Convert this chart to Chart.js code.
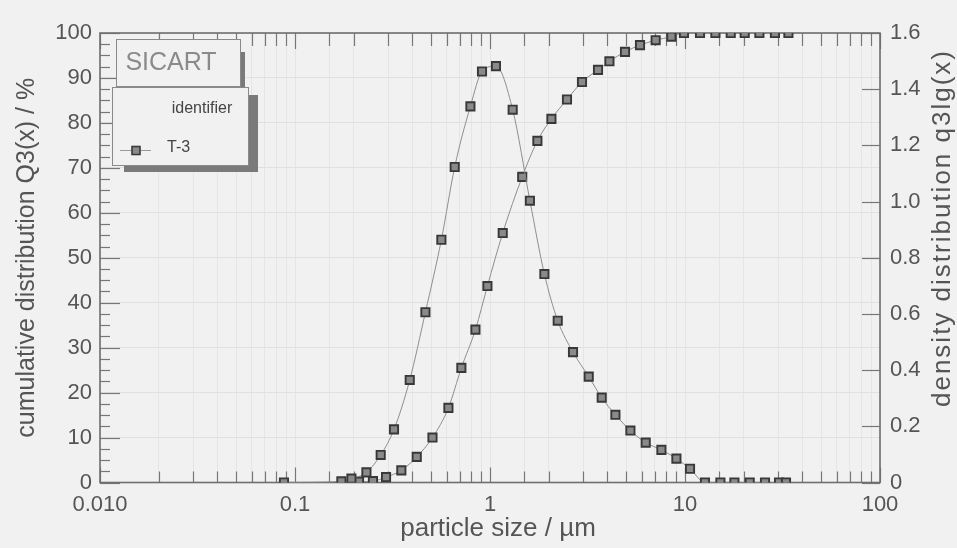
<!DOCTYPE html>
<html>
<head>
<meta charset="utf-8">
<script src="https://cdn.jsdelivr.net/npm/chart.js@4"></script>
<style>
  body { margin: 0; background: #f1f1f1; }
  canvas { display: block; }
</style>
</head>
<body>
<canvas id="chart" width="957" height="548"></canvas>
<script>
// cumulative distribution Q3(x), left axis (%)
const cumX = [0.213, 0.251, 0.293, 0.351, 0.421, 0.507, 0.612, 0.713, 0.842, 0.970,
  1.162, 1.463, 1.750, 2.065, 2.482, 2.963, 3.580, 4.096, 4.924, 5.879,
  7.071, 8.517, 9.88, 11.94, 14.32, 17.16, 20.24, 24.07, 28.93, 33.91];
const cumY = [0.2, 0.3, 1.2, 2.7, 5.7, 10.0, 16.6, 25.5, 34.0, 43.7,
  55.5, 68.0, 76.0, 80.9, 85.2, 89.1, 91.8, 93.7, 95.8, 97.3,
  98.4, 99.2, 100, 100, 100, 100, 100, 100, 100, 100];

// density distribution q3lg(x), right axis
const denX = [0.0878, 0.1729, 0.1947, 0.2324, 0.2751, 0.3219, 0.3876, 0.4664, 0.5631, 0.6592,
  0.7936, 0.9099, 1.073, 1.307, 1.602, 1.901, 2.225, 2.665, 3.208, 3.740,
  4.397, 5.248, 6.287, 7.568, 9.035, 10.61, 12.66, 15.19, 17.92, 21.47,
  25.72, 30.35, 32.96];
const denY = [0, 0.004, 0.014, 0.036, 0.098, 0.189, 0.365, 0.606, 0.864, 1.123,
  1.339, 1.463, 1.482, 1.327, 1.003, 0.742, 0.576, 0.464, 0.377, 0.302,
  0.241, 0.185, 0.142, 0.116, 0.085, 0.049, 0, 0, 0, 0,
  0, 0, 0];

const xTickValues = [0.01, 0.1, 1, 10, 100];
const xTickLabels = ['0.010', '0.1', '1', '10', '100'];

const FONT = "'Liberation Sans', Arial, sans-serif";
const TXT = '#555';

function isDecade(v) {
  const l = Math.log10(v);
  return Math.abs(l - Math.round(l)) < 1e-6;
}

function toPts(xs, ys) {
  return xs.map((x, i) => ({ x: x, y: ys[i] }));
}

const frame = {
  id: 'frame',
  beforeDatasetsDraw(chart) {
    const ctx = chart.ctx, a = chart.chartArea, s = chart.scales;
    ctx.save();
    ctx.strokeStyle = '#777';
    ctx.lineWidth = 1.2;
    function ln(x1, y1, x2, y2) {
      ctx.beginPath(); ctx.moveTo(x1, y1); ctx.lineTo(x2, y2); ctx.stroke();
    }
    // log ticks, bottom and top, pointing inwards
    s.x.ticks.forEach(t => {
      const px = Math.round(s.x.getPixelForValue(t.value)) + 0.5;
      const big = isDecade(t.value);
      ln(px, a.bottom, px, a.bottom - (big ? 15 : 11));
      ln(px, a.top, px, a.top + (big ? 16 : 13));
    });
    // left ticks, major at 10 and minor at 2.5
    for (let v = 0; v <= 100; v += 2.5) {
      const py = Math.round(s.y.getPixelForValue(v)) + 0.5;
      ln(a.left, py, a.left + (v % 10 === 0 ? 20 : 10), py);
    }
    // right ticks
    s.y1.ticks.forEach(t => {
      const py = Math.round(s.y1.getPixelForValue(t.value)) + 0.5;
      ln(a.right - 18, py, a.right, py);
    });
    ctx.lineWidth = 1.6;
    ctx.strokeStyle = '#6e6e6e';
    ctx.strokeRect(a.left, a.top, a.right - a.left, a.bottom - a.top);
    ctx.restore();
  },
  afterDraw(chart) {
    const ctx = chart.ctx, a = chart.chartArea;
    ctx.save();
    // axis titles
    ctx.fillStyle = TXT;
    ctx.textAlign = 'center';
    ctx.textBaseline = 'middle';
    ctx.font = '26px ' + FONT;
    ctx.fillText('particle size / µm', 498, 529);
    ctx.font = '25px ' + FONT;
    ctx.save();
    ctx.translate(27, (a.top + a.bottom) / 2);
    ctx.rotate(-Math.PI / 2);
    ctx.fillText('cumulative distribution Q3(x) / %', 0, 0);
    ctx.restore();
    ctx.save();
    ctx.font = '26px ' + FONT;
    ctx.letterSpacing = '2px';
    ctx.translate(943, 228);
    ctx.rotate(-Math.PI / 2);
    ctx.fillText('density distribution q3lg(x)', 0, 0);
    ctx.restore();

    // SICART box
    ctx.fillStyle = '#7a7a7a';
    ctx.fillRect(240, 52, 5, 35);
    ctx.fillStyle = '#f1f1f1';
    ctx.fillRect(116, 39, 124, 47);
    ctx.strokeStyle = '#8a8a8a';
    ctx.lineWidth = 1;
    ctx.strokeRect(116.5, 39.5, 124, 47);
    ctx.fillStyle = '#8a8a8a';
    ctx.font = '25px ' + FONT;
    ctx.fillText('SICART', 171, 63);

    // identifier / legend box
    ctx.fillStyle = '#7a7a7a';
    ctx.fillRect(124, 95, 134, 77);
    ctx.fillStyle = '#f1f1f1';
    ctx.fillRect(112, 87, 136, 78);
    ctx.strokeStyle = '#8a8a8a';
    ctx.strokeRect(112.5, 87.5, 136, 78);
    ctx.fillStyle = '#444';
    ctx.font = '16px ' + FONT;
    ctx.fillText('identifier', 202, 109);
    ctx.textAlign = 'left';
    ctx.fillText('T-3', 167, 148);
    ctx.strokeStyle = '#999';
    ctx.beginPath(); ctx.moveTo(120, 150.5); ctx.lineTo(151, 150.5); ctx.stroke();
    ctx.fillStyle = '#8a8a8a';
    ctx.fillRect(132, 146.5, 8, 8);
    ctx.strokeStyle = '#3a3a3a';
    ctx.lineWidth = 1.6;
    ctx.strokeRect(132, 146.5, 8, 8);
    ctx.restore();
  }
};

const ds = (pts, axis) => ({
  data: pts,
  yAxisID: axis,
  showLine: true,
  borderColor: '#8e8e8e',
  borderWidth: 1,
  cubicInterpolationMode: 'monotone',
  pointStyle: 'rect',
  pointRadius: 5.8,
  pointBorderWidth: 1.9,
  pointBorderColor: '#383838',
  pointBackgroundColor: '#8a8a8a',
  pointHoverRadius: 5.8
});

new Chart(document.getElementById('chart'), {
  type: 'scatter',
  data: {
    datasets: [ds(toPts(denX, denY), 'y1'), ds(toPts(cumX, cumY), 'y')]
  },
  options: {
    responsive: false,
    animation: false,
    layout: { padding: { top: 33, left: 0, right: 0, bottom: 0 } },
    plugins: { legend: { display: false }, tooltip: { enabled: false } },
    scales: {
      x: {
        type: 'logarithmic',
        min: 0.01,
        max: 100,
        afterFit: s => { s.height = 65.5; },
        border: { display: false },
        grid: { color: '#e5e5e5', lineWidth: 1, drawTicks: false },
        ticks: {
          autoSkip: false,
          maxRotation: 0,
          padding: 9,
          color: TXT,
          font: { family: FONT, size: 22 },
          callback: v => {
            const i = xTickValues.findIndex(d => Math.abs(d - v) / d < 1e-6);
            return i >= 0 ? xTickLabels[i] : '';
          }
        }
      },
      y: {
        position: 'left',
        min: 0,
        max: 100,
        afterFit: s => { s.width = 100; },
        border: { display: false },
        grid: { color: '#e0e0e0', lineWidth: 1, drawTicks: false },
        ticks: { stepSize: 10, padding: 8, color: TXT, font: { family: FONT, size: 22 } }
      },
      y1: {
        position: 'right',
        min: 0,
        max: 1.6,
        afterFit: s => { s.width = 77; },
        border: { display: false },
        grid: { drawOnChartArea: false, drawTicks: false },
        ticks: {
          stepSize: 0.2,
          padding: 10,
          color: TXT,
          font: { family: FONT, size: 22 },
          callback: v => (v === 0 ? '0' : v.toFixed(1))
        }
      }
    }
  },
  plugins: [frame]
});
</script>
</body>
</html>
